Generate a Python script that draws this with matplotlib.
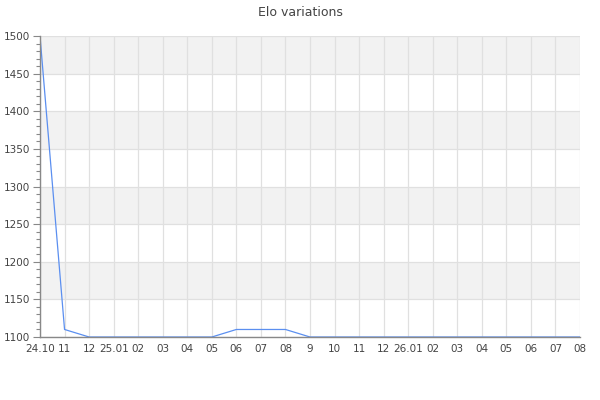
import matplotlib
matplotlib.use("Agg")
import matplotlib.pyplot as plt
from matplotlib.ticker import MultipleLocator

# monthly categories, Oct 2024 .. Aug 2026
months = ["24.10", "11", "12", "25.01", "02", "03", "04", "05", "06", "07", "08", "9",
          "10", "11", "12", "26.01", "02", "03", "04", "05", "06", "07", "08"]
elo = [1500, 1110, 1100, 1100, 1100, 1100, 1100, 1100, 1110, 1110, 1110, 1100,
       1100, 1100, 1100, 1100, 1100, 1100, 1100, 1100, 1100, 1100, 1100]
y_min, y_max, band = 1100, 1500, 50

txt = "#444444"
grid = "#e0e0e0"

fig = plt.figure(figsize=(6, 4), dpi=100)
ax = fig.add_axes([40/600, 1-337/400, 540/600, 301/400])

x = list(range(len(months)))

# alternating bands, gray on the upper one of each pair
for lo in range(y_min, y_max, band):
    if ((lo - y_min) // band) % 2 == 1:
        ax.axhspan(lo, lo + band, color="#f2f2f2", zorder=0, lw=0)

# line sits under the spines, so the flat 1100 part is hidden by the axis
ax.plot(x, elo, color="#5b8ff0", lw=0.9, zorder=2)

ax.set_xlim(0, len(months) - 1)
ax.set_ylim(y_min, y_max)
ax.set_xticks(x)
ax.set_xticklabels(months)
ax.yaxis.set_major_locator(MultipleLocator(50))
ax.yaxis.set_minor_locator(MultipleLocator(10))

ax.grid(True, which="major", color=grid, lw=0.9, zorder=1)
ax.set_axisbelow(True)

for s in ["top", "right"]:
    ax.spines[s].set_visible(False)
for s in ["left", "bottom"]:
    ax.spines[s].set_color("#888888")
    ax.spines[s].set_linewidth(1.0)
    ax.spines[s].set_zorder(3)

ax.tick_params(axis="x", length=0, pad=5, labelsize=7.5, labelcolor=txt)
ax.tick_params(axis="y", which="major", length=5, width=0.8, color="#888888",
               pad=2, labelsize=7.5, labelcolor=txt)
ax.tick_params(axis="y", which="minor", length=3, width=0.8, color="#888888")

fig.text(0.5, 1-12/400, "Elo variations", ha="center", va="center",
         fontsize=9, color=txt)

fig.savefig("out.png", dpi=100)
